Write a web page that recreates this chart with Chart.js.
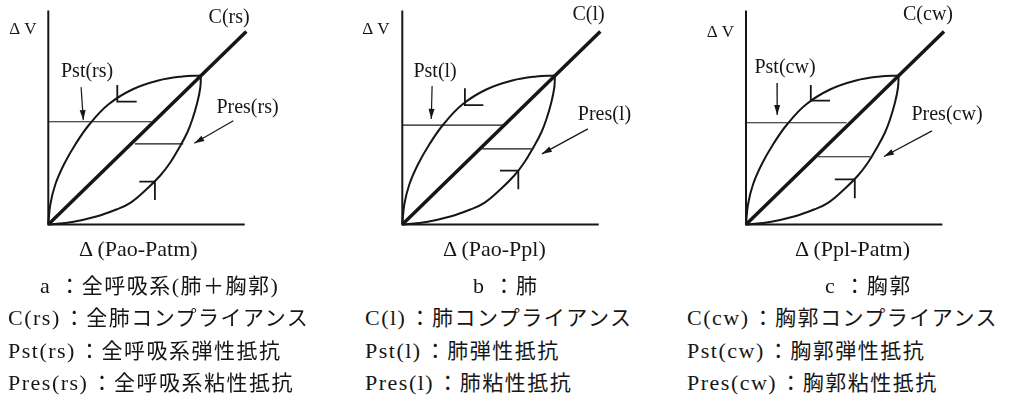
<!DOCTYPE html>
<html>
<head>
<meta charset="utf-8">
<script src="https://cdn.jsdelivr.net/npm/chart.js@4.4.1/dist/chart.umd.min.js"></script>
<style>
  body { margin: 0; background: #fff; width: 1010px; height: 403px; position: relative; overflow: hidden; }
  canvas { position: absolute; top: 0; }
  .cap {
    position: absolute;
    font-family: "Noto Sans CJK JP", sans-serif;
    font-size: 21px;
    line-height: 1;
    letter-spacing: 1.5px;
    color: #161616;
    white-space: nowrap;
    transform: translateY(-50%);
  }
  .lat { font-family: "Liberation Serif", serif; font-size: 22px; }
  .tag { margin-right: 3px; }
  .key { margin-right: 8px; }
  .head { font-family: "Liberation Serif", serif; font-size: 22px; letter-spacing: 0; }
</style>
</head>
<body>
<canvas id="panelA" width="330" height="240" style="left:0px"></canvas>
<canvas id="panelB" width="330" height="240" style="left:340px"></canvas>
<canvas id="panelC" width="330" height="240" style="left:680px"></canvas>

<div class="cap head" style="left:79px;top:249px">Δ (Pao-Patm)</div>
<div class="cap" style="left:40px;top:285px"><span class="lat key">a</span>：全呼吸系<span class="lat">(</span>肺＋胸郭<span class="lat">)</span></div>
<div class="cap" style="left:8px;top:317px"><span class="lat tag">C(rs)</span>：全肺コンプライアンス</div>
<div class="cap" style="left:8px;top:350px"><span class="lat tag">Pst(rs)</span>：全呼吸系弾性抵抗</div>
<div class="cap" style="left:8px;top:382px"><span class="lat tag">Pres(rs)</span>：全呼吸系粘性抵抗</div>

<div class="cap head" style="left:443px;top:249px">Δ (Pao-Ppl)</div>
<div class="cap" style="left:473px;top:285px"><span class="lat key">b</span>：肺</div>
<div class="cap" style="left:365px;top:317px"><span class="lat tag">C(l)</span>：肺コンプライアンス</div>
<div class="cap" style="left:365px;top:350px"><span class="lat tag">Pst(l)</span>：肺弾性抵抗</div>
<div class="cap" style="left:365px;top:382px"><span class="lat tag">Pres(l)</span>：肺粘性抵抗</div>

<div class="cap head" style="left:795px;top:249px">Δ (Ppl-Patm)</div>
<div class="cap" style="left:825px;top:285px"><span class="lat key">c</span>：胸郭</div>
<div class="cap" style="left:687px;top:317px"><span class="lat tag">C(cw)</span>：胸郭コンプライアンス</div>
<div class="cap" style="left:687px;top:350px"><span class="lat tag">Pst(cw)</span>：胸郭弾性抵抗</div>
<div class="cap" style="left:687px;top:382px"><span class="lat tag">Pres(cw)</span>：胸郭粘性抵抗</div>

<script>
// pressure-volume loop, same shape in all three panels
const deflateX = [0, 0.1, 0.35, 0.78, 1.35, 2.05, 3.0, 4.2, 5.5, 6.7, 7.62];
const deflateY = [0, 1.0, 2.0, 3.0, 4.0, 5.0, 6.0, 6.75, 7.2, 7.4, 7.45];
const inflateX = [0, 1.2, 2.4, 3.4, 4.1, 4.9, 5.6, 6.1, 6.55, 6.95, 7.2, 7.45, 7.6, 7.63];
const inflateY = [0, 0.13, 0.4, 0.75, 1.08, 1.75, 2.45, 3.1, 3.85, 4.6, 5.25, 6.1, 6.85, 7.45];

// compliance line and axes
const complianceEnd = [9.9, 9.65];
const axisEnd = [9.82, 10.7];

// per panel: rs, l, cw
const panelNames = ['rs', 'l', 'cw'];
// elastic level: [y, x from, x to]
const elasticLevel = [[5.14, 0, 5.17], [4.97, 0, 5.05], [5.09, 0, 5.03]];
// resistive level: [y, x from, x to]
const resistLevel = [[4.03, 4.33, 6.75], [3.78, 4.0, 6.47], [3.39, 3.6, 6.22]];
// direction ticks: [x, yTop, yCorner, xEnd] on the deflation limb
const deflateTick = [[3.45, 6.97, 6.14, 4.42], [3.13, 6.81, 5.97, 4.05], [3.24, 6.97, 6.19, 4.2]];
// direction ticks: [xStart, y, xCorner, yBottom] on the inflation limb
const inflateTick = [[4.55, 2.14, 5.33, 1.23], [4.88, 2.69, 5.8, 1.76], [4.44, 2.26, 5.44, 1.31]];
// pointer arrows: [x1, y1, x2, y2]
const pstArrow = [[1.64, 6.87, 1.75, 5.22], [1.49, 6.93, 1.45, 5.28], [1.55, 7.08, 1.56, 5.48]];
const presArrow = [[9.25, 5.19, 7.3, 4.06], [9.28, 4.78, 6.98, 3.53], [9.3, 4.68, 6.9, 3.4]];

// label anchors (centre, data units)
const labelC = [[9.04, 10.33], [9.31, 10.48], [9.1, 10.48]];
const labelPst = [[1.94, 7.63], [1.64, 7.63], [1.95, 7.83]];
const labelPres = [[9.96, 5.83], [10.11, 5.48], [10.05, 5.48]];
const labelDV = [[-1.27, 9.73], [-1.32, 9.73], [-1.28, 9.58]];

// canvas layout: origin pixel inside each canvas, 20px per unit
const canvasIds = ['panelA', 'panelB', 'panelC'];
const originPx = [[48.3, 224.5], [62.3, 224.5], [66, 224.5]];
const unitPx = 20;
const INK = '#161616';

function pts(xs, ys) {
  return xs.map((x, i) => ({ x: x, y: ys[i] }));
}

function line(data, width, extra) {
  return Object.assign({
    data: data,
    showLine: true,
    borderColor: INK,
    borderWidth: width,
    pointRadius: 0,
    tension: 0,
    clip: false
  }, extra || {});
}

// filled heads on datasets flagged with arrowHead
const arrowHeads = {
  id: 'arrowHeads',
  afterDatasetsDraw(chart) {
    const ctx = chart.ctx;
    chart.data.datasets.forEach((ds, i) => {
      if (!ds.arrowHead) return;
      const p = chart.getDatasetMeta(i).data;
      const a = p[p.length - 2], b = p[p.length - 1];
      const ang = Math.atan2(b.y - a.y, b.x - a.x);
      const len = 10, half = 3;
      ctx.save();
      ctx.fillStyle = INK;
      ctx.beginPath();
      ctx.moveTo(b.x, b.y);
      ctx.lineTo(b.x - len * Math.cos(ang) + half * Math.sin(ang), b.y - len * Math.sin(ang) - half * Math.cos(ang));
      ctx.lineTo(b.x - len * Math.cos(ang) - half * Math.sin(ang), b.y - len * Math.sin(ang) + half * Math.cos(ang));
      ctx.closePath();
      ctx.fill();
      ctx.restore();
    });
  }
};

// text placed at data coordinates
const panelLabels = {
  id: 'panelLabels',
  afterDraw(chart, args, opts) {
    const ctx = chart.ctx;
    const sx = chart.scales.x, sy = chart.scales.y;
    ctx.save();
    ctx.fillStyle = INK;
    ctx.textAlign = 'center';
    ctx.textBaseline = 'middle';
    opts.items.forEach(it => {
      ctx.font = it.font;
      ctx.fillText(it.text, sx.getPixelForValue(it.at[0]), sy.getPixelForValue(it.at[1]));
    });
    ctx.restore();
  }
};

canvasIds.forEach((id, k) => {
  const cv = document.getElementById(id);
  const [ox, oy] = originPx[k];
  const name = panelNames[k];
  const el = elasticLevel[k], rl = resistLevel[k];
  const dt = deflateTick[k], it = inflateTick[k];
  const pa = pstArrow[k], ra = presArrow[k];

  const datasets = [
    line([{ x: 0, y: axisEnd[1] }, { x: 0, y: 0 }, { x: axisEnd[0], y: 0 }], 2),
    line([{ x: 0, y: 0 }, { x: complianceEnd[0], y: complianceEnd[1] }], 3.5),
    line(pts(deflateX, deflateY), 2, { tension: 0.4 }),
    line(pts(inflateX, inflateY), 2, { tension: 0.4 }),
    line([{ x: el[1], y: el[0] }, { x: el[2], y: el[0] }], 1.1),
    line([{ x: rl[1], y: rl[0] }, { x: rl[2], y: rl[0] }], 1.1),
    line([{ x: dt[0], y: dt[1] }, { x: dt[0], y: dt[2] }, { x: dt[3], y: dt[2] }], 1.8),
    line([{ x: it[0], y: it[1] }, { x: it[2], y: it[1] }, { x: it[2], y: it[3] }], 1.8),
    line([{ x: pa[0], y: pa[1] }, { x: pa[2], y: pa[3] }], 1.2, { arrowHead: true }),
    line([{ x: ra[0], y: ra[1] }, { x: ra[2], y: ra[3] }], 1.2, { arrowHead: true })
  ];

  new Chart(cv.getContext('2d'), {
    type: 'scatter',
    data: { datasets: datasets },
    options: {
      responsive: false,
      animation: false,
      events: [],
      layout: { padding: 0, autoPadding: false },
      scales: {
        x: { type: 'linear', display: false, min: -ox / unitPx, max: (cv.width - ox) / unitPx },
        y: { type: 'linear', display: false, min: -(cv.height - oy) / unitPx, max: oy / unitPx }
      },
      plugins: {
        legend: { display: false },
        tooltip: { enabled: false },
        panelLabels: {
          items: [
            { text: 'C(' + name + ')', at: labelC[k], font: '20px "Liberation Serif"' },
            { text: 'Pst(' + name + ')', at: labelPst[k], font: '20px "Liberation Serif"' },
            { text: 'Pres(' + name + ')', at: labelPres[k], font: '20px "Liberation Serif"' },
            { text: 'Δ V', at: labelDV[k], font: '17px "Liberation Serif"' }
          ]
        }
      }
    },
    plugins: [arrowHeads, panelLabels]
  });
});
</script>
</body>
</html>
